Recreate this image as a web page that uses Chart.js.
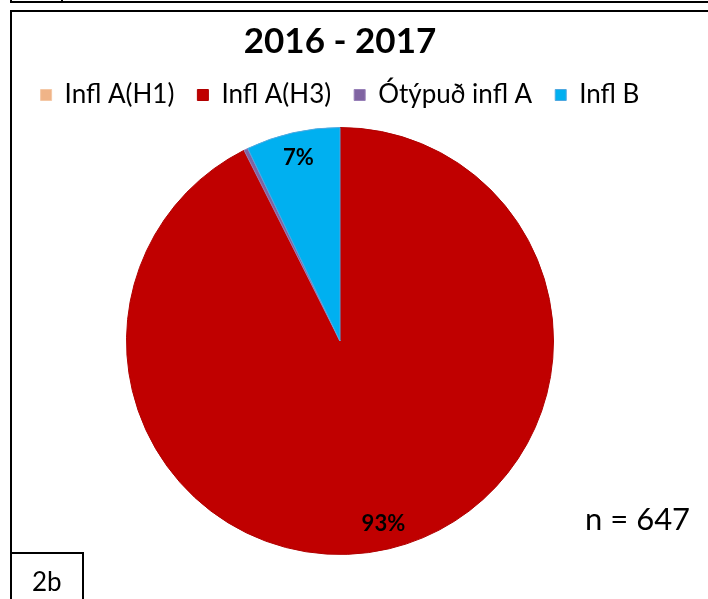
<!DOCTYPE html>
<html>
<head>
<meta charset="utf-8">
<script src="https://cdn.jsdelivr.net/npm/chart.js@4.4.1/dist/chart.umd.min.js"></script>
<style>
  html, body { margin: 0; padding: 0; background: #fff; }
  body { width: 708px; height: 599px; position: relative; overflow: hidden; font-family: Lato, "Open Sans", sans-serif; }
  #c { position: absolute; left: 0; top: 0; }
  .ln { position: absolute; background: #000; }
  .txt { position: absolute; color: #000; white-space: nowrap; line-height: 1; }
</style>
</head>
<body>
<canvas id="c" width="708" height="599"></canvas>
<!-- frame lines -->
<div class="ln" style="left:10px;top:1px;width:698px;height:2px;"></div>
<div class="ln" style="left:10px;top:0px;width:2px;height:3px;"></div>
<div class="ln" style="left:61px;top:0px;width:2px;height:3px;"></div>
<div class="ln" style="left:10px;top:10px;width:698px;height:2px;"></div>
<div class="ln" style="left:10px;top:10px;width:2px;height:589px;"></div>
<div class="ln" style="left:10px;top:552px;width:74px;height:2px;"></div>
<div class="ln" style="left:82px;top:552px;width:2px;height:47px;"></div>
<div class="txt" id="n" style="left:585px;top:503px;font-size:31px;">n = 647</div>
<div class="txt" style="left:32px;top:568px;font-size:26px;">2b</div>
<script>
const categories = ["Infl A(H1)", "Infl A(H3)", "Ótýpuð infl A", "Infl B"];
const counts = [0, 599, 2, 46];
const colors = ["#F0B488", "#C00000", "#8064A2", "#00B0F0"];
const borderColors = ["#F4C8A6", "#B00000", "#9880B8", "#4FA8E0"];
const chartTitle = "2016 - 2017";

const total = counts.reduce((a, b) => a + b, 0);

const pctLabels = {
  id: 'pctLabels',
  afterDatasetsDraw(chart) {
    const ctx = chart.ctx;
    const meta = chart.getDatasetMeta(0);
    ctx.save();
    ctx.font = 'bold 22px Lato, "Open Sans", sans-serif';
    ctx.fillStyle = '#000';
    ctx.textAlign = 'center';
    ctx.textBaseline = 'middle';
    meta.data.forEach((arc, i) => {
      const pct = Math.round(counts[i] / total * 100);
      if (pct < 1) return;
      const p = arc.getProps(['x', 'y', 'startAngle', 'endAngle', 'outerRadius'], true);
      const mid = (p.startAngle + p.endAngle) / 2;
      const r = p.outerRadius * 0.88;
      ctx.fillText(pct + '%', p.x + Math.cos(mid) * r, p.y + Math.sin(mid) * r);
    });
    ctx.restore();
  }
};

const legendSpace = {
  id: 'legendSpace',
  beforeInit(chart) {
    const lg = chart.legend;
    const orig = lg.fit;
    lg.fit = function () {
      orig.bind(lg)();
      this.height = 68;
    };
  }
};

new Chart(document.getElementById('c'), {
  type: 'pie',
  data: {
    labels: categories,
    datasets: [{
      data: counts,
      backgroundColor: colors,
      borderColor: borderColors,
      borderWidth: 1
    }]
  },
  options: {
    responsive: false,
    animation: false,
    devicePixelRatio: 1,
    layout: { padding: { left: 0, right: 28, top: 12, bottom: 44 } },
    plugins: {
      title: {
        display: true,
        text: chartTitle,
        color: '#000',
        font: { family: 'Lato, "Open Sans", sans-serif', size: 35, weight: 'bold', lineHeight: 1.0 },
        padding: { top: 12, bottom: 0 }
      },
      legend: {
        display: true,
        position: 'top',
        labels: {
          color: '#000',
          font: { family: 'Lato, "Open Sans", sans-serif', size: 26 },
          boxWidth: 11,
          boxHeight: 11,
          padding: 23
        }
      },
      tooltip: { enabled: false }
    }
  },
  plugins: [pctLabels, legendSpace]
});
</script>
</body>
</html>
